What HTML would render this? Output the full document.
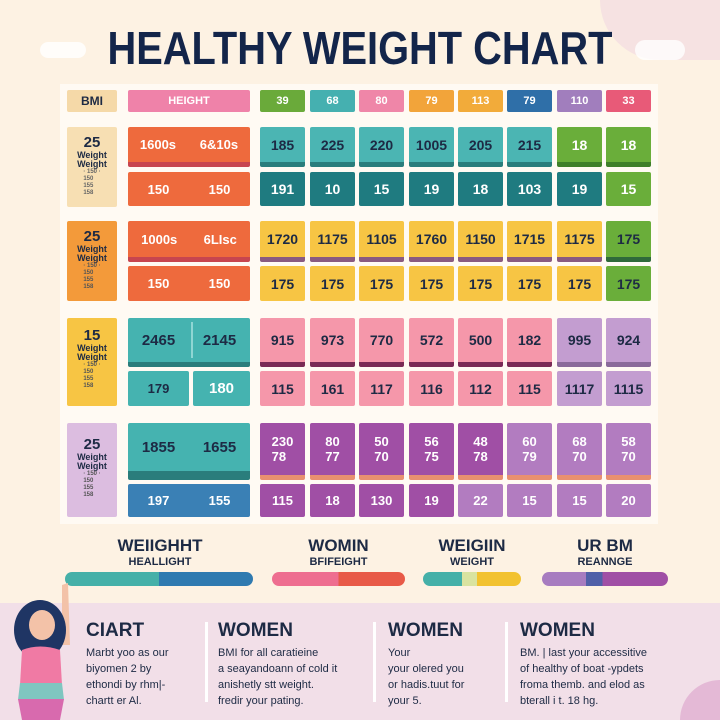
<!DOCTYPE html>
<html><head><meta charset="utf-8"><style>
*{margin:0;padding:0;box-sizing:border-box}
html,body{width:720px;height:720px;overflow:hidden}
body{background:#fdf2e3;font-family:"Liberation Sans",sans-serif;position:relative}
.a{position:absolute}
.c{position:absolute;display:flex;align-items:center;justify-content:center;font-weight:bold;font-size:14px;color:#1d2a44;border-radius:2px}
.w{color:#fff}
.s{border-bottom:5px solid}
.h{font-size:11px;color:#fff}
.lab{position:absolute;text-align:center;font-weight:bold;color:#1d2a44}
.bt{position:absolute;font-size:11px;line-height:16px;color:#1d2a44}
.bh{position:absolute;font-size:19px;font-weight:bold;color:#1d2a44}
.div{position:absolute;width:3px;background:#fff;top:622px;height:80px}
</style></head><body>
<div class="a" style="left:600px;top:0;width:120px;height:60px;background:#f6e2e2;border-bottom-left-radius:60px"></div>
<div class="a" style="left:40px;top:42px;width:46px;height:16px;background:#fff;border-radius:10px;opacity:.8"></div>
<div class="a" style="left:635px;top:40px;width:50px;height:20px;background:#fff;border-radius:10px;opacity:.8"></div>
<svg class="a" style="left:0;top:0" width="720" height="80"><text x="360" y="64" text-anchor="middle" textLength="505" lengthAdjust="spacingAndGlyphs" font-family="Liberation Sans Narrow, Liberation Sans, sans-serif" font-weight="bold" font-size="46" fill="#13254a">HEALTHY WEIGHT CHART</text></svg>
<div class="a" style="left:60px;top:84px;width:598px;height:440px;background:#fffaf3"></div>

<div class="c" style="left:67px;top:90px;width:50px;height:22px;background:#f5d9a8;font-size:12px">BMI</div>
<div class="c h" style="left:128px;top:90px;width:122px;height:22px;background:#ef82a9">HEIGHT</div>
<div class="c h" style="left:260px;top:90px;width:45px;height:22px;background:#6aaa3a">39</div>
<div class="c h" style="left:310px;top:90px;width:45px;height:22px;background:#45b0b0">68</div>
<div class="c h" style="left:359px;top:90px;width:45px;height:22px;background:#ef86a8">80</div>
<div class="c h" style="left:409px;top:90px;width:45px;height:22px;background:#f2a43a">79</div>
<div class="c h" style="left:458px;top:90px;width:45px;height:22px;background:#f2ab3a">113</div>
<div class="c h" style="left:507px;top:90px;width:45px;height:22px;background:#2f6fa8">79</div>
<div class="c h" style="left:557px;top:90px;width:45px;height:22px;background:#a17ebd">110</div>
<div class="c h" style="left:606px;top:90px;width:45px;height:22px;background:#e85a78">33</div>

<div class="c" style="left:67px;top:127px;width:50px;height:80px;background:#f7dfb3;flex-direction:column;font-size:9px;line-height:9px;justify-content:flex-start;padding-top:8px"><span style="font-size:15px;line-height:16px">25</span>Weight<br>Weight<span style="font-size:6px;color:#666;line-height:7px">· 150 ·<br>150<br>155<br>158</span></div>
<div class="c" style="left:67px;top:221px;width:50px;height:80px;background:#f39a3a;flex-direction:column;font-size:9px;line-height:9px;justify-content:flex-start;padding-top:8px"><span style="font-size:15px;line-height:16px">25</span>Weight<br>Weight<span style="font-size:6px;color:#555;line-height:7px">· 150 ·<br>150<br>155<br>158</span></div>
<div class="c" style="left:67px;top:318px;width:50px;height:88px;background:#f7c544;flex-direction:column;font-size:9px;line-height:9px;justify-content:flex-start;padding-top:10px"><span style="font-size:15px;line-height:16px">15</span>Weight<br>Weight<span style="font-size:6px;color:#555;line-height:7px">· 150 ·<br>150<br>155<br>158</span></div>
<div class="c" style="left:67px;top:423px;width:50px;height:94px;background:#dcbde0;flex-direction:column;font-size:9px;line-height:9px;justify-content:flex-start;padding-top:14px"><span style="font-size:15px;line-height:16px">25</span>Weight<br>Weight<span style="font-size:6px;color:#555;line-height:7px">· 150 ·<br>150<br>155<br>158</span></div>

<div class="c w s" style="left:128px;top:127px;width:122px;height:40px;background:#ee6a3d;border-color:#c7454f;justify-content:space-around;font-size:13px"><span>1600s</span><span>6&amp;10s</span></div>
<div class="c w" style="left:128px;top:172px;width:122px;height:34px;background:#ee6a3d;justify-content:space-around;font-size:13px"><span>150</span><span>150</span></div>
<div class="c w s" style="left:128px;top:221px;width:122px;height:41px;background:#ee6a3d;border-color:#c7454f;justify-content:space-around;font-size:13px"><span>1000s</span><span>6LIsc</span></div>
<div class="c w" style="left:128px;top:266px;width:122px;height:35px;background:#ee6a3d;justify-content:space-around;font-size:13px"><span>150</span><span>150</span></div>
<div class="c s" style="left:128px;top:318px;width:122px;height:49px;background:#45b3b0;border-color:#2a7d7c;justify-content:space-around;font-size:15px"><span>2465</span><span>2145</span></div>
<div class="a" style="left:191px;top:322px;width:2px;height:36px;background:#8fd6d3"></div>
<div class="c" style="left:128px;top:371px;width:61px;height:35px;background:#45b3b0;font-size:13px">179</div>
<div class="c w" style="left:193px;top:371px;width:57px;height:35px;background:#45b3b0;font-size:15px">180</div>
<div class="c s" style="left:128px;top:423px;width:122px;height:57px;background:#45b3b0;border-color:#2a7d7c;border-bottom-width:9px;justify-content:space-around;font-size:15px"><span>1855</span><span>1655</span></div>
<div class="c w" style="left:128px;top:484px;width:122px;height:33px;background:#3a80b5;justify-content:space-around;font-size:13px"><span>197</span><span>155</span></div>

<div id="g"></div>

<div class="lab" style="left:70px;top:536px;width:180px;font-size:17px">WEIIGHHT</div>
<div class="lab" style="left:70px;top:556px;width:180px;font-size:11px">HEALLIGHT</div>
<div class="a" style="left:65px;top:572px;width:188px;height:14px;border-radius:7px;background:linear-gradient(90deg,#45b0a8 0 50%,#2f7ab0 50%)"></div>
<div class="lab" style="left:272px;top:536px;width:133px;font-size:17px">WOMIN</div>
<div class="lab" style="left:272px;top:556px;width:133px;font-size:11px">BFIFEIGHT</div>
<div class="a" style="left:272px;top:572px;width:133px;height:14px;border-radius:7px;background:linear-gradient(90deg,#ee6e90 0 50%,#e85a48 50%)"></div>
<div class="lab" style="left:423px;top:536px;width:98px;font-size:17px">WEIGIIN</div>
<div class="lab" style="left:423px;top:556px;width:98px;font-size:11px">WEIGHT</div>
<div class="a" style="left:423px;top:572px;width:98px;height:14px;border-radius:7px;background:linear-gradient(90deg,#45b0a8 0 40%,#d9e3a0 40% 55%,#f2c230 55%)"></div>
<div class="lab" style="left:542px;top:536px;width:126px;font-size:17px">UR BM</div>
<div class="lab" style="left:542px;top:556px;width:126px;font-size:11px">REANNGE</div>
<div class="a" style="left:542px;top:572px;width:126px;height:14px;border-radius:7px;background:linear-gradient(90deg,#a77cc0 0 35%,#5060a8 35% 48%,#a04fa5 48%)"></div>

<div class="a" style="left:0;top:603px;width:720px;height:117px;background:#f2dfe8"></div>
<div class="a" style="left:680px;top:680px;width:40px;height:40px;border-top-left-radius:40px;background:#e4b9d6"></div>
<div class="div" style="left:205px"></div><div class="div" style="left:373px"></div><div class="div" style="left:505px"></div>
<div class="bh" style="left:86px;top:620px">CIART</div>
<div class="bt" style="left:86px;top:645px">Marbt yoo as our<br>biyomen 2 by<br>ethondi by rhm|-<br>chartt er Al.</div>
<div class="bh" style="left:218px;top:620px">WOMEN</div>
<div class="bt" style="left:218px;top:645px">BMI for all caratieine<br>a seayandoann of cold it<br>anishetly stt weight.<br>fredir your pating.</div>
<div class="bh" style="left:388px;top:620px">WOMEN</div>
<div class="bt" style="left:388px;top:645px">Your<br>your olered you<br>or hadis.tuut for<br>your 5.</div>
<div class="bh" style="left:520px;top:620px">WOMEN</div>
<div class="bt" style="left:520px;top:645px">BM. | last your accessitive<br>of healthy of boat -ypdets<br>froma themb. and elod as<br>bterall i t. 18 hg.</div>

<svg class="a" style="left:0;top:575px" width="90" height="145">
<path d="M62 10 L68 8 L70 70 L62 70Z" fill="#f3c2a8"/>
<ellipse cx="40" cy="55" rx="26" ry="30" fill="#1f3564"/>
<ellipse cx="42" cy="50" rx="13" ry="15" fill="#f3c2a8"/>
<path d="M22 75 Q40 68 60 75 L62 110 L20 110Z" fill="#f07aa4"/>
<path d="M20 108 L62 108 L64 125 L18 125Z" fill="#7fc6c0"/>
<path d="M18 124 L64 124 L60 145 L22 145Z" fill="#d86aae"/>
</svg>

<script>
var X=[260,310,359,409,458,507,557,606],W=45,h='';
function row(y,ht,vals,cols,txt,stripe,fs){for(var i=0;i<8;i++){var st=stripe?'border-bottom:5px solid '+stripe[i]+';':'';h+='<div class="c" style="left:'+X[i]+'px;top:'+y+'px;width:'+W+'px;height:'+ht+'px;background:'+cols[i]+';color:'+txt[i]+';'+st+'font-size:'+(fs||14)+'px">'+vals[i]+'</div>';}}
function r(c,n){var a=[];for(var i=0;i<8;i++)a.push(i<n?c[0]:c[1]);return a}
row(127,40,['185','225','220','1005','205','215','18','18'],r(['#4bb5b3','#6aae3a'],6),r(['#1d2a44','#fff'],6),r(['#2a7d7c','#3f7f2a'],6));
row(172,34,['191','10','15','19','18','103','19','15'],r(['#1f7b80','#6aae3a'],7),r(['#fff','#fff'],7));
row(221,41,['1720','1175','1105','1760','1150','1715','1175','175'],r(['#f7c544','#6aae3a'],7),r(['#1d2a44','#1d2a44'],7),r(['#8a5a80','#2f6a3a'],7));
row(266,35,['175','175','175','175','175','175','175','175'],r(['#f7c544','#6aae3a'],7),r(['#1d2a44','#1d2a44'],7));
row(318,49,['915','973','770','572','500','182','995','924'],r(['#f597aa','#c39dd0'],6),r(['#1d2a44','#1d2a44'],6),r(['#7a2a55','#8a6a9a'],6));
row(371,35,['115','161','117','116','112','115','1117','1115'],r(['#f597aa','#c39dd0'],6),r(['#1d2a44','#1d2a44'],6));
var t4=['230<br>78','80<br>77','50<br>70','56<br>75','48<br>78','60<br>79','68<br>70','58<br>70'];
row(423,57,t4,r(['#a04fa5','#b27cc0'],5),r(['#fff','#fff'],5),r(['#e89070','#e89070'],8),13);
row(484,33,['115','18','130','19','22','15','15','20'],r(['#a04fa5','#b27cc0'],4),r(['#fff','#fff'],4),null,13);
document.getElementById('g').innerHTML=h;
</script>
</body></html>
